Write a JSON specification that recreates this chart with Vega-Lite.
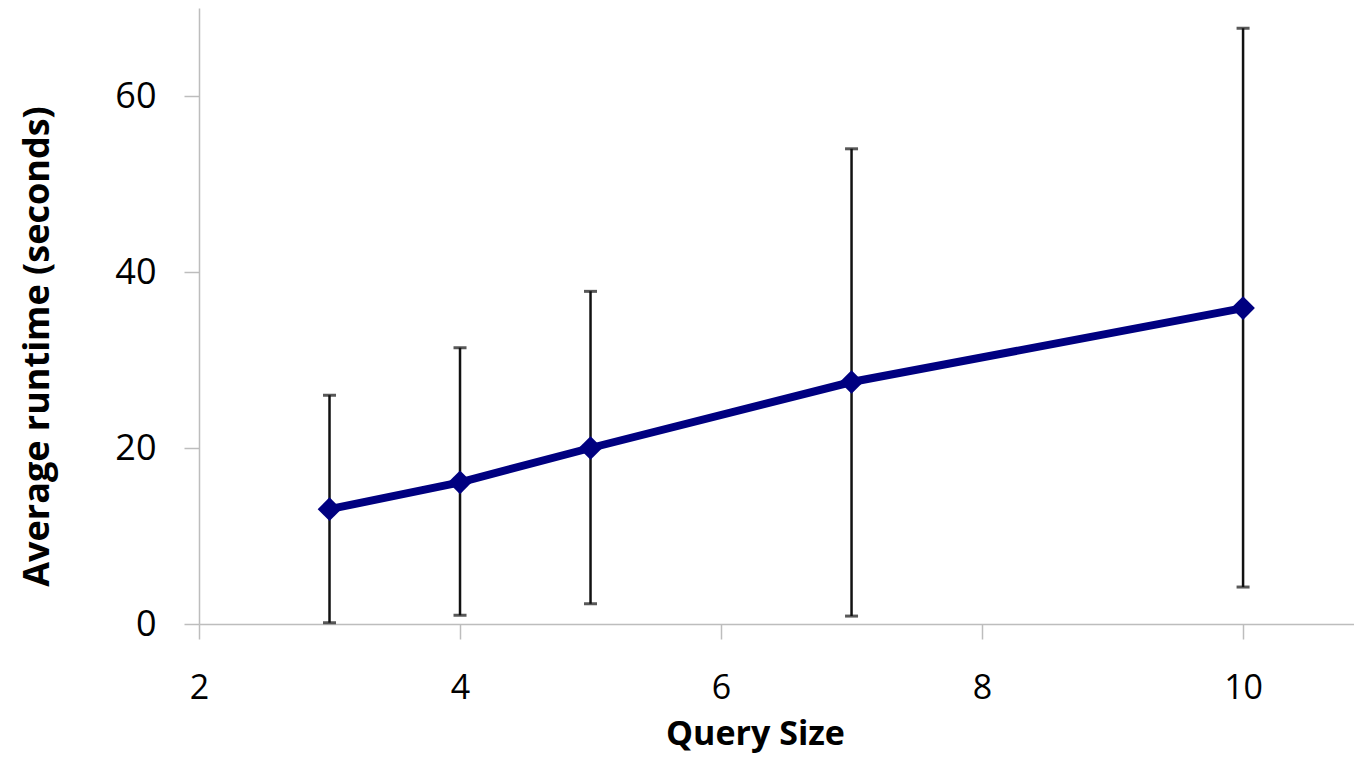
{
  "$schema": "https://vega.github.io/schema/vega-lite/v6.json",
  "autosize": {"type": "none"},
  "padding": {"left": 199, "top": 8, "right": 0, "bottom": 135},
  "width": 1155,
  "height": 616,
  "background": "white",
  "config": {
    "view": {"stroke": null},
    "font": "Open Sans",
    "axis": {
      "grid": false,
      "domainColor": "#bdbdbd",
      "tickColor": "#bdbdbd",
      "domainWidth": 1.5,
      "tickWidth": 1.5,
      "tickSize": 15,
      "labelFontSize": 36,
      "labelColor": "#000000",
      "labelFlush": false,
      "titleFontSize": 36,
      "titleFontWeight": "bold",
      "titleColor": "#000000",
      "labelFont": "Open Sans",
      "titleFont": "Open Sans"
    }
  },
  "data": {
    "values": [
      {"size": 3, "mean": 13.05, "low": 0.15, "high": 26.0},
      {"size": 4, "mean": 16.1, "low": 1.0, "high": 31.4},
      {"size": 5, "mean": 20.0, "low": 2.3, "high": 37.8},
      {"size": 7, "mean": 27.5, "low": 0.9, "high": 54.0},
      {"size": 10, "mean": 35.9, "low": 4.2, "high": 67.7}
    ]
  },
  "layer": [
    {
      "mark": {"type": "rule", "color": "#111111", "strokeWidth": 2.5},
      "encoding": {
        "x": {"field": "size", "type": "quantitative"},
        "y": {"field": "low", "type": "quantitative"},
        "y2": {"field": "high"}
      }
    },
    {
      "mark": {"type": "tick", "orient": "horizontal", "color": "#111111", "thickness": 3, "size": 13},
      "encoding": {
        "x": {"field": "size", "type": "quantitative"},
        "y": {"field": "low", "type": "quantitative"}
      }
    },
    {
      "mark": {"type": "tick", "orient": "horizontal", "color": "#111111", "thickness": 3, "size": 13},
      "encoding": {
        "x": {"field": "size", "type": "quantitative"},
        "y": {"field": "high", "type": "quantitative"}
      }
    },
    {
      "mark": {"type": "line", "color": "#000080", "strokeWidth": 8},
      "encoding": {
        "x": {
          "field": "size",
          "type": "quantitative",
          "scale": {"domain": [2, 10.85], "nice": false, "zero": false},
          "axis": {"values": [2, 4, 6, 8, 10], "format": "d", "title": "Query Size", "labelFontSize": 34, "titleFontSize": 34, "labelPadding": 32, "titlePadding": 12, "titleX": 556}
        },
        "y": {
          "field": "mean",
          "type": "quantitative",
          "scale": {"domain": [0, 70], "nice": false},
          "axis": {"values": [0, 20, 40, 60], "format": "d", "title": "Average  runtime (seconds)", "labelPadding": 28, "titlePadding": 58, "titleY": 338}
        }
      }
    },
    {
      "mark": {"type": "point", "shape": "diamond", "filled": true, "opacity": 1, "color": "#000080", "size": 560},
      "encoding": {
        "x": {"field": "size", "type": "quantitative"},
        "y": {"field": "mean", "type": "quantitative"}
      }
    }
  ]
}
